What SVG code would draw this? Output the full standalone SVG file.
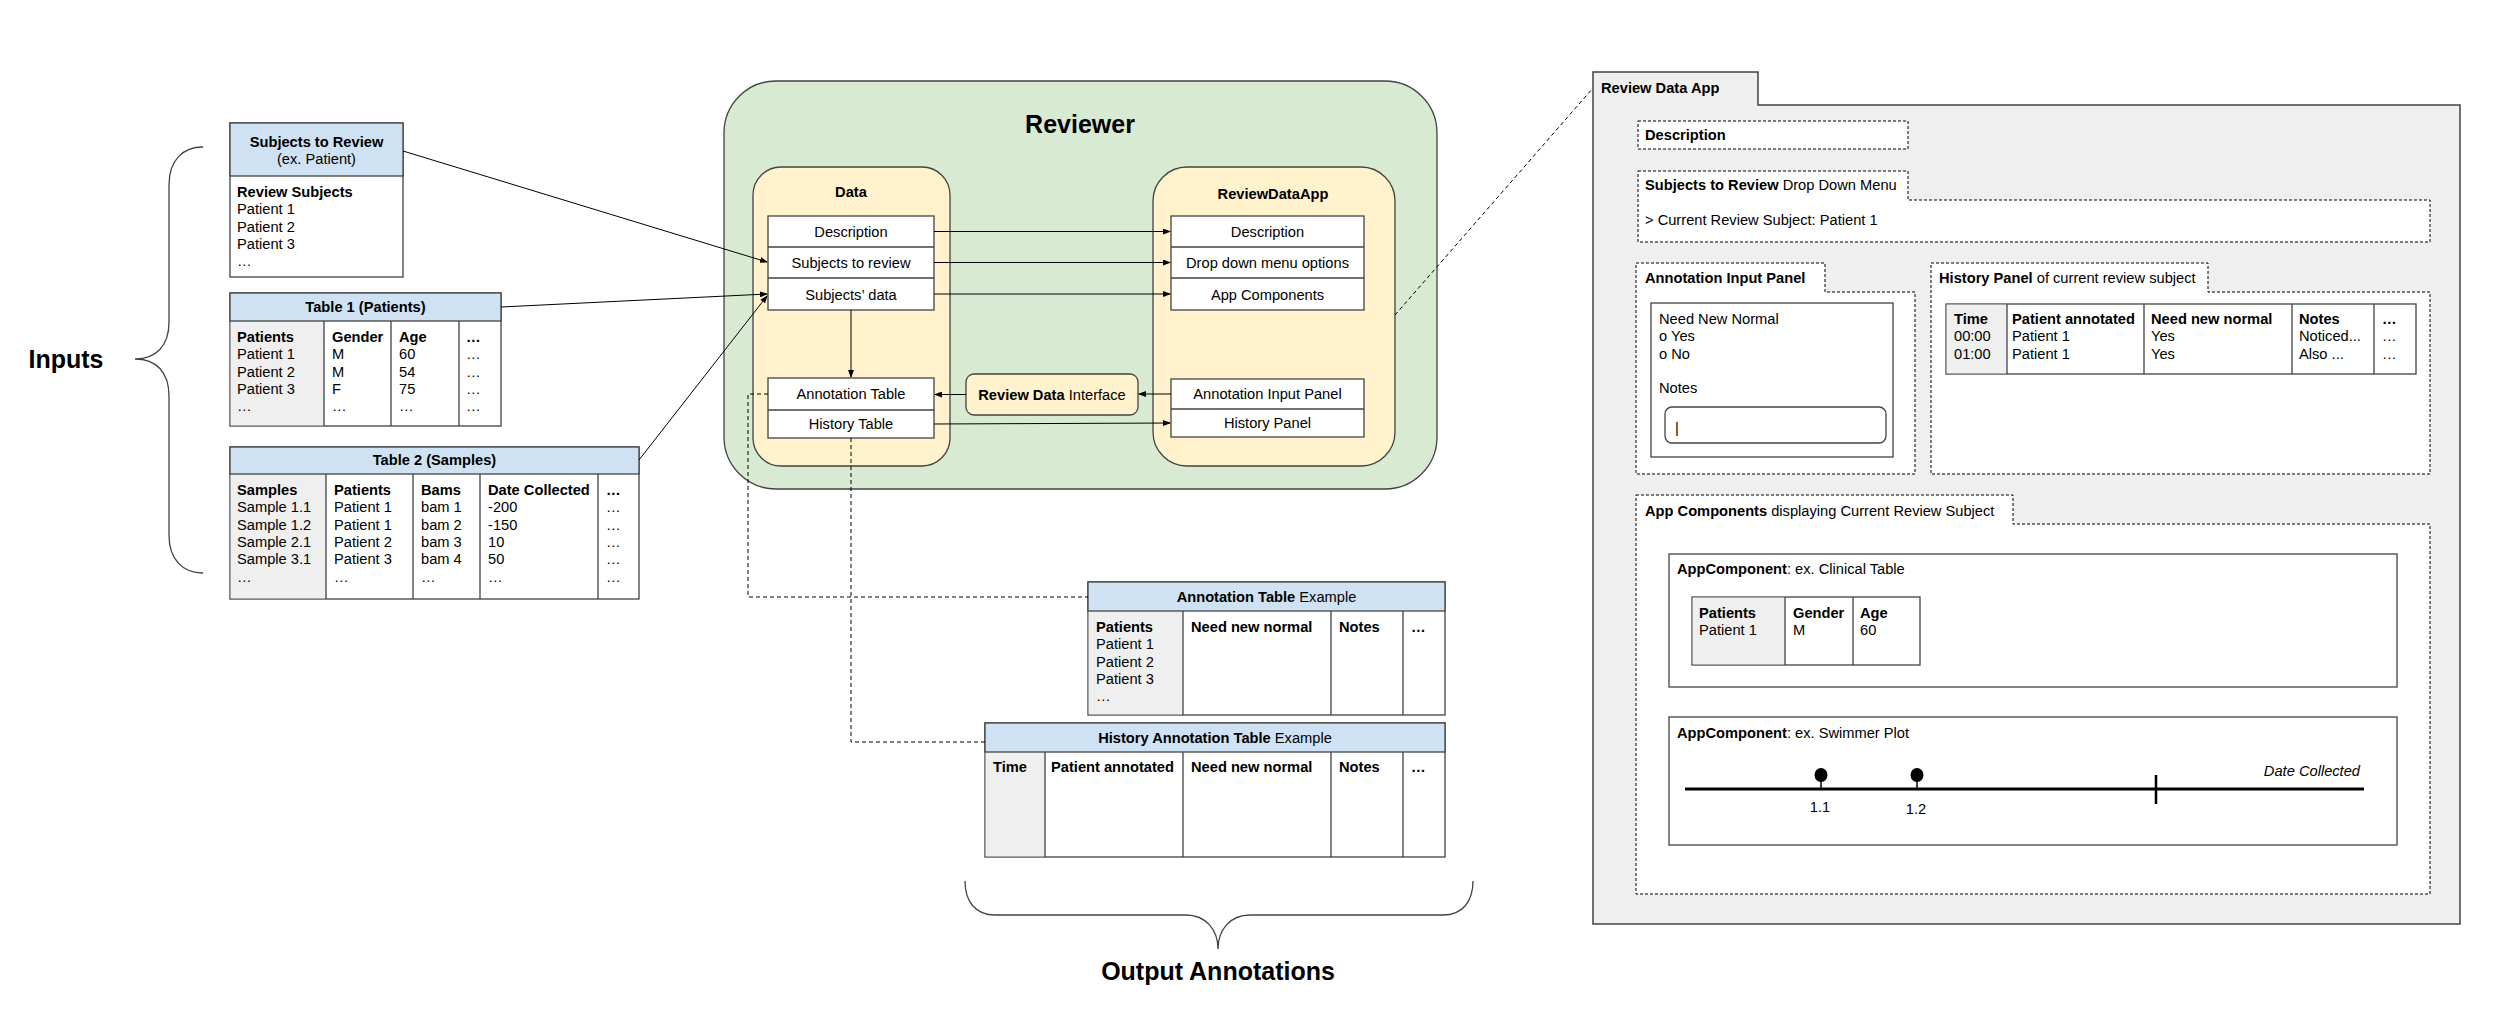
<svg xmlns="http://www.w3.org/2000/svg" width="2500" height="1032" viewBox="0 0 2500 1032">
<style>
text{font-family:"Liberation Sans",Arial,sans-serif;font-size:14.67px;fill:#000}
.b{font-weight:bold}
.c{text-anchor:middle}
.big{font-size:25px;font-weight:bold}
.box{fill:#fff;stroke:#434343;stroke-width:1.3}
.hdr{fill:#cfe2f3;stroke:#434343;stroke-width:1.3}
.gray{fill:#efefef}
.ln{stroke:#434343;stroke-width:1.3;fill:none}
.dbox{fill:#fff;stroke:#000;stroke-width:1;stroke-dasharray:3 2}
.con{stroke:#000;stroke-width:1;fill:none}
.dash{stroke:#000;stroke-width:1;fill:none;stroke-dasharray:4 3}
.brace{stroke:#434343;stroke-width:1.3;fill:none}
</style>
<defs>
<marker id="ah" markerWidth="8" markerHeight="6" refX="7" refY="3" orient="auto" markerUnits="userSpaceOnUse">
<path d="M0,0 L8,3 L0,6 Z" fill="#000"/>
</marker>
</defs>
<rect width="2500" height="1032" fill="#fff"/>

<g id="inputs-label">
<path class="brace" d="M203,147 C183,147 169,160 169,185 L169,322 C169,346 156,359 135,359 C156,359 169,372 169,396 L169,535 C169,560 183,573 203,573"/>
<text class="big c" x="66" y="368">Inputs</text>
</g>

<g id="subjects-to-review">
<rect class="box" x="230" y="123" width="173" height="154"/>
<rect class="hdr" x="230" y="123" width="173" height="53"/>
<text class="b c" x="316.5" y="147">Subjects to Review</text>
<text class="c" x="316.5" y="164">(ex. Patient)</text>
<text class="b" x="237" y="197">Review Subjects</text>
<text x="237" y="214.3">Patient 1</text>
<text x="237" y="231.7">Patient 2</text>
<text x="237" y="249">Patient 3</text>
<text x="237" y="266.3">…</text>
</g>

<g id="table1">
<rect class="box" x="230" y="293" width="271" height="133"/>
<rect class="gray" x="230.7" y="321" width="93.3" height="104.3"/>
<rect class="hdr" x="230" y="293" width="271" height="28"/>
<path class="ln" d="M324,321V426M391,321V426M459,321V426"/>
<text class="b c" x="365.5" y="312">Table 1 (Patients)</text>
<text class="b" x="237" y="342">Patients</text>
<text x="237" y="359.3">Patient 1</text>
<text x="237" y="376.7">Patient 2</text>
<text x="237" y="394">Patient 3</text>
<text x="237" y="411.3">…</text>
<text class="b" x="332" y="342">Gender</text>
<text x="332" y="359.3">M</text>
<text x="332" y="376.7">M</text>
<text x="332" y="394">F</text>
<text x="332" y="411.3">…</text>
<text class="b" x="399" y="342">Age</text>
<text x="399" y="359.3">60</text>
<text x="399" y="376.7">54</text>
<text x="399" y="394">75</text>
<text x="399" y="411.3">…</text>
<text class="b" x="466" y="342">…</text>
<text x="466" y="359.3">…</text>
<text x="466" y="376.7">…</text>
<text x="466" y="394">…</text>
<text x="466" y="411.3">…</text>
</g>

<g id="table2">
<rect class="box" x="230" y="447" width="409" height="152"/>
<rect class="gray" x="230.7" y="474" width="95.3" height="124.3"/>
<rect class="hdr" x="230" y="447" width="409" height="27"/>
<path class="ln" d="M326,474V599M413,474V599M480,474V599M598,474V599"/>
<text class="b c" x="434.5" y="465">Table 2 (Samples)</text>
<text class="b" x="237" y="495">Samples</text>
<text x="237" y="512.3">Sample 1.1</text>
<text x="237" y="529.7">Sample 1.2</text>
<text x="237" y="547">Sample 2.1</text>
<text x="237" y="564.3">Sample 3.1</text>
<text x="237" y="581.7">…</text>
<text class="b" x="334" y="495">Patients</text>
<text x="334" y="512.3">Patient 1</text>
<text x="334" y="529.7">Patient 1</text>
<text x="334" y="547">Patient 2</text>
<text x="334" y="564.3">Patient 3</text>
<text x="334" y="581.7">…</text>
<text class="b" x="421" y="495">Bams</text>
<text x="421" y="512.3">bam 1</text>
<text x="421" y="529.7">bam 2</text>
<text x="421" y="547">bam 3</text>
<text x="421" y="564.3">bam 4</text>
<text x="421" y="581.7">…</text>
<text class="b" x="488" y="495">Date Collected</text>
<text x="488" y="512.3">-200</text>
<text x="488" y="529.7">-150</text>
<text x="488" y="547">10</text>
<text x="488" y="564.3">50</text>
<text x="488" y="581.7">…</text>
<text class="b" x="606" y="495">…</text>
<text x="606" y="512.3">…</text>
<text x="606" y="529.7">…</text>
<text x="606" y="547">…</text>
<text x="606" y="564.3">…</text>
<text x="606" y="581.7">…</text>
</g>

<g id="reviewer">
<rect x="724" y="81" width="713" height="408" rx="52" fill="#d9ead3" stroke="#434343" stroke-width="1.3"/>
<text class="big c" x="1080" y="133">Reviewer</text>
</g>

<g id="data">
<rect x="753" y="167" width="197" height="299" rx="28" fill="#fff2cc" stroke="#434343" stroke-width="1.3"/>
<text class="b c" x="851" y="197">Data</text>
<rect class="box" x="768" y="216" width="166" height="94"/>
<path class="ln" d="M768,247H934M768,278H934"/>
<text class="c" x="851" y="236.5">Description</text>
<text class="c" x="851" y="268">Subjects to review</text>
<text class="c" x="851" y="299.5">Subjects’ data</text>
<rect class="box" x="768" y="378" width="166" height="60"/>
<path class="ln" d="M768,410H934"/>
<text class="c" x="851" y="399">Annotation Table</text>
<text class="c" x="851" y="429">History Table</text>
</g>

<g id="reviewdataapp">
<rect x="1153" y="167" width="242" height="299" rx="34" fill="#fff2cc" stroke="#434343" stroke-width="1.3"/>
<text class="b c" x="1273" y="199">ReviewDataApp</text>
<rect class="box" x="1171" y="216" width="193" height="94"/>
<path class="ln" d="M1171,247H1364M1171,278H1364"/>
<text class="c" x="1267.5" y="236.5">Description</text>
<text class="c" x="1267.5" y="268">Drop down menu options</text>
<text class="c" x="1267.5" y="299.5">App Components</text>
<rect class="box" x="1171" y="379" width="193" height="58"/>
<path class="ln" d="M1171,409H1364"/>
<text class="c" x="1267.5" y="399">Annotation Input Panel</text>
<text class="c" x="1267.5" y="428">History Panel</text>
</g>

<g id="review-data-interface">
<rect x="966" y="374" width="172" height="41" rx="8" fill="#fff2cc" stroke="#434343" stroke-width="1.3"/>
<text class="c" x="1052" y="400"><tspan class="b">Review Data</tspan> Interface</text>
</g>

<g id="annotation-table-example">
<rect class="box" x="1088" y="582" width="357" height="133"/>
<rect class="gray" x="1088.7" y="611" width="94.3" height="103.3"/>
<rect class="hdr" x="1088" y="582" width="357" height="29"/>
<path class="ln" d="M1183,611V715M1331,611V715M1403,611V715"/>
<text class="c" x="1266.5" y="602"><tspan class="b">Annotation Table</tspan> Example</text>
<text class="b" x="1096" y="632">Patients</text>
<text x="1096" y="649.3">Patient 1</text>
<text x="1096" y="666.7">Patient 2</text>
<text x="1096" y="684">Patient 3</text>
<text x="1096" y="701.3">…</text>
<text class="b" x="1191" y="632">Need new normal</text>
<text class="b" x="1339" y="632">Notes</text>
<text class="b" x="1411" y="632">…</text>
</g>

<g id="history-annotation-table-example">
<rect class="box" x="985" y="723" width="460" height="134"/>
<rect class="gray" x="985.7" y="752" width="59.3" height="104.3"/>
<rect class="hdr" x="985" y="723" width="460" height="29"/>
<path class="ln" d="M1045,752V857M1183,752V857M1331,752V857M1403,752V857"/>
<text class="c" x="1215" y="743"><tspan class="b">History Annotation Table</tspan> Example</text>
<text class="b" x="993" y="772">Time</text>
<text class="b" x="1051" y="772">Patient annotated</text>
<text class="b" x="1191" y="772">Need new normal</text>
<text class="b" x="1339" y="772">Notes</text>
<text class="b" x="1411" y="772">…</text>
</g>

<g id="output-label">
<path class="brace" d="M965,881 C965,901 975,915 995,915 L1186,915 C1206,915 1218,930 1218,949 C1218,930 1230,915 1250,915 L1443,915 C1463,915 1473,901 1473,881"/>
<text class="big c" x="1218" y="980">Output Annotations</text>
</g>

<g id="review-data-app-panel">
<path d="M1593,72 H1758 V105 H2460 V924 H1593 Z" fill="#efefef" stroke="#434343" stroke-width="1.5"/>
<text class="b" x="1601" y="93">Review Data App</text>
</g>

<g id="panel-description">
<rect class="dbox" x="1638" y="121" width="270" height="28"/>
<text class="b" x="1645" y="140">Description</text>
</g>

<g id="panel-dropdown">
<path class="dbox" d="M1638,171 H1908 V200 H2430 V242 H1638 Z"/>
<text x="1645" y="190"><tspan class="b">Subjects to Review</tspan> Drop Down Menu</text>
<text x="1645" y="225">&gt; Current Review Subject: Patient 1</text>
</g>

<g id="panel-annotation-input">
<path class="dbox" d="M1636,263 H1825 V292 H1915 V474 H1636 Z"/>
<text class="b" x="1645" y="283">Annotation Input Panel</text>
<rect class="box" x="1651" y="303" width="242" height="154"/>
<text x="1659" y="324">Need New Normal</text>
<text x="1659" y="341.3">o Yes</text>
<text x="1659" y="358.7">o No</text>
<text x="1659" y="393">Notes</text>
<rect class="box" x="1665" y="407" width="221" height="36" rx="7"/>
<text x="1675" y="433">|</text>
</g>

<g id="panel-history">
<path class="dbox" d="M1931,263 H2208 V292 H2430 V474 H1931 Z"/>
<text x="1939" y="283"><tspan class="b">History Panel</tspan> of current review subject</text>
<rect class="box" x="1946" y="304" width="470" height="70"/>
<rect class="gray" x="1946.7" y="304.7" width="60.3" height="68.6"/>
<path class="ln" d="M2007,304V374M2144,304V374M2292,304V374M2374,304V374"/>
<text class="b" x="1954" y="324">Time</text>
<text x="1954" y="341.3">00:00</text>
<text x="1954" y="358.7">01:00</text>
<text class="b" x="2012" y="324">Patient annotated</text>
<text x="2012" y="341.3">Patient 1</text>
<text x="2012" y="358.7">Patient 1</text>
<text class="b" x="2151" y="324">Need new normal</text>
<text x="2151" y="341.3">Yes</text>
<text x="2151" y="358.7">Yes</text>
<text class="b" x="2299" y="324">Notes</text>
<text x="2299" y="341.3">Noticed...</text>
<text x="2299" y="358.7">Also ...</text>
<text class="b" x="2382" y="324">…</text>
<text x="2382" y="341.3">…</text>
<text x="2382" y="358.7">…</text>
</g>

<g id="panel-app-components">
<path class="dbox" d="M1636,495 H2013 V524 H2430 V894 H1636 Z"/>
<text x="1645" y="516"><tspan class="b">App Components</tspan> displaying Current Review Subject</text>
</g>

<g id="clinical-table-component">
<rect class="box" x="1669" y="554" width="728" height="133"/>
<text x="1677" y="574"><tspan class="b">AppComponent</tspan>: ex. Clinical Table</text>
<rect class="box" x="1692" y="597" width="228" height="68"/>
<rect class="gray" x="1692.7" y="597.7" width="92.3" height="66.6"/>
<path class="ln" d="M1785,597V665M1853,597V665"/>
<text class="b" x="1699" y="618">Patients</text>
<text x="1699" y="635.3">Patient 1</text>
<text class="b" x="1793" y="618">Gender</text>
<text x="1793" y="635.3">M</text>
<text class="b" x="1860" y="618">Age</text>
<text x="1860" y="635.3">60</text>
</g>

<g id="swimmer-plot-component">
<rect class="box" x="1669" y="717" width="728" height="128"/>
<text x="1677" y="738"><tspan class="b">AppComponent</tspan>: ex. Swimmer Plot</text>
<line x1="1685" y1="789" x2="2364" y2="789" stroke="#000" stroke-width="3"/>
<line x1="1821" y1="778" x2="1821" y2="789" stroke="#000" stroke-width="1.5"/>
<ellipse cx="1821" cy="775" rx="6.5" ry="7" fill="#000"/>
<line x1="1917" y1="778" x2="1917" y2="789" stroke="#000" stroke-width="1.5"/>
<ellipse cx="1917" cy="775" rx="6.5" ry="7" fill="#000"/>
<line x1="2156" y1="775" x2="2156" y2="804" stroke="#000" stroke-width="2.5"/>
<text class="c" x="1820" y="812">1.1</text>
<text class="c" x="1916" y="814">1.2</text>
<text x="2360" y="776" text-anchor="end" font-style="italic">Date Collected</text>
</g>

<g id="connectors">
<line class="con" x1="403" y1="151" x2="767" y2="262" marker-end="url(#ah)"/>
<line class="con" x1="501" y1="307" x2="767" y2="294" marker-end="url(#ah)"/>
<line class="con" x1="639" y1="460" x2="767" y2="296" marker-end="url(#ah)"/>
<line class="con" x1="934" y1="231.5" x2="1170" y2="231.5" marker-end="url(#ah)"/>
<line class="con" x1="934" y1="262.5" x2="1170" y2="262.5" marker-end="url(#ah)"/>
<line class="con" x1="934" y1="294" x2="1170" y2="294" marker-end="url(#ah)"/>
<line class="con" x1="851" y1="310" x2="851" y2="377" marker-end="url(#ah)"/>
<line class="con" x1="1171" y1="394" x2="1139" y2="394" marker-end="url(#ah)"/>
<line class="con" x1="966" y1="394.5" x2="935" y2="394.5" marker-end="url(#ah)"/>
<line class="con" x1="934" y1="424" x2="1170" y2="423" marker-end="url(#ah)"/>
<path class="dash" d="M768,394 H748 V597 H1088"/>
<path class="dash" d="M851,438 V742 H985"/>
<line class="dash" x1="1395" y1="315" x2="1593" y2="88"/>
</g>
</svg>
